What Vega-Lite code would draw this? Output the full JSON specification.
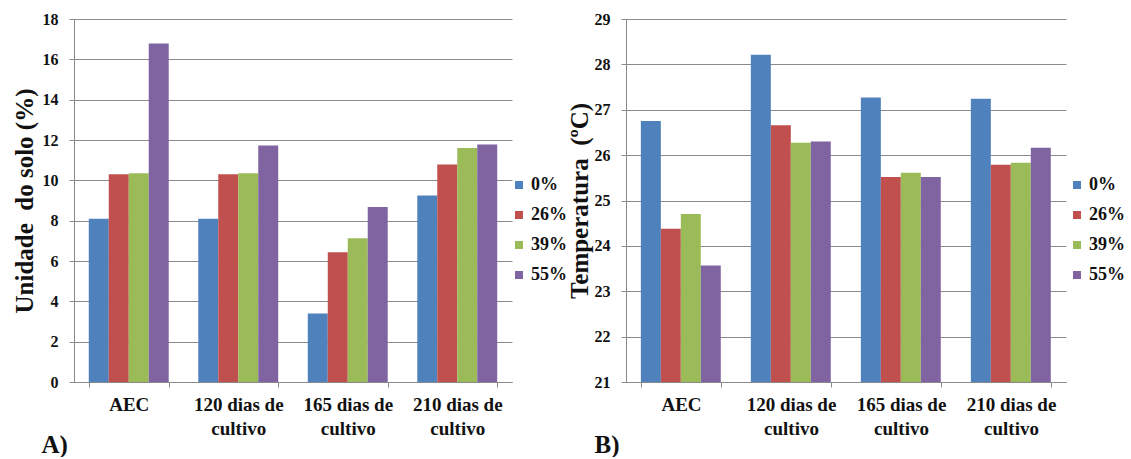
{
  "$schema": "https://vega.github.io/schema/vega-lite/v6.json",
  "background": "white",
  "padding": {"left": 12, "top": 11, "right": 0, "bottom": 0},
  "spacing": 0,
  "datasets": {
    "umidade": [
      {"periodo": "AEC", "trat": "0%", "valor": 8.1},
      {"periodo": "AEC", "trat": "26%", "valor": 10.3},
      {"periodo": "AEC", "trat": "39%", "valor": 10.35},
      {"periodo": "AEC", "trat": "55%", "valor": 16.78},
      {"periodo": "120 dias de cultivo", "trat": "0%", "valor": 8.1},
      {"periodo": "120 dias de cultivo", "trat": "26%", "valor": 10.3},
      {"periodo": "120 dias de cultivo", "trat": "39%", "valor": 10.35},
      {"periodo": "120 dias de cultivo", "trat": "55%", "valor": 11.73},
      {"periodo": "165 dias de cultivo", "trat": "0%", "valor": 3.4},
      {"periodo": "165 dias de cultivo", "trat": "26%", "valor": 6.43},
      {"periodo": "165 dias de cultivo", "trat": "39%", "valor": 7.13},
      {"periodo": "165 dias de cultivo", "trat": "55%", "valor": 8.68},
      {"periodo": "210 dias de cultivo", "trat": "0%", "valor": 9.25},
      {"periodo": "210 dias de cultivo", "trat": "26%", "valor": 10.78},
      {"periodo": "210 dias de cultivo", "trat": "39%", "valor": 11.6},
      {"periodo": "210 dias de cultivo", "trat": "55%", "valor": 11.78}
    ],
    "temperatura": [
      {"periodo": "AEC", "trat": "0%", "valor": 26.75},
      {"periodo": "AEC", "trat": "26%", "valor": 24.38},
      {"periodo": "AEC", "trat": "39%", "valor": 24.7},
      {"periodo": "AEC", "trat": "55%", "valor": 23.57},
      {"periodo": "120 dias de cultivo", "trat": "0%", "valor": 28.21},
      {"periodo": "120 dias de cultivo", "trat": "26%", "valor": 26.66},
      {"periodo": "120 dias de cultivo", "trat": "39%", "valor": 26.27},
      {"periodo": "120 dias de cultivo", "trat": "55%", "valor": 26.3},
      {"periodo": "165 dias de cultivo", "trat": "0%", "valor": 27.27},
      {"periodo": "165 dias de cultivo", "trat": "26%", "valor": 25.52},
      {"periodo": "165 dias de cultivo", "trat": "39%", "valor": 25.61},
      {"periodo": "165 dias de cultivo", "trat": "55%", "valor": 25.52},
      {"periodo": "210 dias de cultivo", "trat": "0%", "valor": 27.24},
      {"periodo": "210 dias de cultivo", "trat": "26%", "valor": 25.79},
      {"periodo": "210 dias de cultivo", "trat": "39%", "valor": 25.83},
      {"periodo": "210 dias de cultivo", "trat": "55%", "valor": 26.16}
    ]
  },
  "config": {
    "view": {"stroke": null},
    "axis": {
      "labelFont": "Liberation Serif",
      "titleFont": "Liberation Serif",
      "labelFontWeight": "bold",
      "titleFontWeight": "bold",
      "labelColor": "#111111",
      "titleColor": "#111111",
      "domainColor": "#8a8a8a",
      "tickColor": "#8a8a8a",
      "gridColor": "#8a8a8a"
    },
    "legend": {
      "labelFont": "Liberation Serif",
      "labelFontWeight": "bold",
      "labelFontSize": 18,
      "labelColor": "#111111",
      "symbolType": "square",
      "symbolSize": 64,
      "rowPadding": 12,
      "labelOffset": 3
    }
  },
  "resolve": {"legend": {"color": "independent"}},
  "hconcat": [
    {
      "width": 438,
      "height": 363,
      "data": {"name": "umidade"},
      "mark": {"type": "bar"},
      "encoding": {
        "x": {
          "field": "periodo",
          "type": "nominal",
          "sort": ["AEC", "120 dias de cultivo", "165 dias de cultivo", "210 dias de cultivo"],
          "scale": {"paddingInner": 0.27, "paddingOuter": 0.135},
          "axis": {
            "title": "A)",
            "titleFont": "Liberation Serif",
            "titleFontSize": 25,
            "titleAnchor": "start",
            "titleAlign": "left",
            "titleBaseline": "middle",
            "titleX": -33,
            "titleY": 62,
            "labelAngle": 0,
            "labelFont": "Liberation Serif",
            "labelFontSize": 19,
            "labelLineHeight": 24,
            "labelPadding": 8,
            "tickSize": 5,
            "tickBand": "extent",
            "labelExpr": "datum.value == null ? '' : datum.value == 'AEC' ? 'AEC' : [substring(datum.value, 0, 11), 'cultivo']"
          }
        },
        "xOffset": {"field": "trat", "type": "nominal", "sort": ["0%", "26%", "39%", "55%"]},
        "y": {
          "field": "valor",
          "type": "quantitative",
          "scale": {"domain": [0, 18], "nice": false},
          "axis": {
            "title": "Unidade\u00a0 do solo (%)",
            "titleFont": "Liberation Serif",
            "titleFontSize": 25,
            "titlePadding": 5,
            "values": [0, 2, 4, 6, 8, 10, 12, 14, 16, 18],
            "labelFont": "Liberation Serif",
            "labelFontWeight": "bold",
            "labelFontSize": 16,
            "labelPadding": 11,
            "tickSize": 5,
            "grid": true
          }
        },
        "color": {
          "field": "trat",
          "type": "nominal",
          "sort": ["0%", "26%", "39%", "55%"],
          "scale": {"domain": ["0%", "26%", "39%", "55%"], "range": ["#4F81BD", "#C0504D", "#9BBB59", "#8064A2"]},
          "legend": {"title": null, "orient": "none", "legendX": 436, "legendY": 157}
        }
      }
    },
    {
      "width": 440,
      "height": 363,
      "data": {"name": "temperatura"},
      "mark": {"type": "bar"},
      "encoding": {
        "x": {
          "field": "periodo",
          "type": "nominal",
          "sort": ["AEC", "120 dias de cultivo", "165 dias de cultivo", "210 dias de cultivo"],
          "scale": {"paddingInner": 0.27, "paddingOuter": 0.135},
          "axis": {
            "title": "B)",
            "titleFont": "Liberation Serif",
            "titleFontSize": 25,
            "titleAnchor": "start",
            "titleAlign": "left",
            "titleBaseline": "middle",
            "titleX": -32,
            "titleY": 62,
            "labelAngle": 0,
            "labelFont": "Liberation Serif",
            "labelFontSize": 19,
            "labelLineHeight": 24,
            "labelPadding": 8,
            "tickSize": 5,
            "tickBand": "extent",
            "labelExpr": "datum.value == null ? '' : datum.value == 'AEC' ? 'AEC' : [substring(datum.value, 0, 11), 'cultivo']"
          }
        },
        "xOffset": {"field": "trat", "type": "nominal", "sort": ["0%", "26%", "39%", "55%"]},
        "y": {
          "field": "valor",
          "type": "quantitative",
          "scale": {"domain": [21, 29], "nice": false, "zero": false},
          "axis": {
            "title": "Temperatura\u00a0 (ºC)",
            "titleFont": "Liberation Serif",
            "titleFontSize": 25,
            "titlePadding": 2,
            "values": [21, 22, 23, 24, 25, 26, 27, 28, 29],
            "labelFont": "Liberation Serif",
            "labelFontWeight": "bold",
            "labelFontSize": 16,
            "labelPadding": 11,
            "tickSize": 5,
            "grid": true
          }
        },
        "y2": {"datum": 21},
        "color": {
          "field": "trat",
          "type": "nominal",
          "sort": ["0%", "26%", "39%", "55%"],
          "scale": {"domain": ["0%", "26%", "39%", "55%"], "range": ["#4F81BD", "#C0504D", "#9BBB59", "#8064A2"]},
          "legend": {"title": null, "orient": "none", "legendX": 442, "legendY": 157}
        }
      }
    }
  ]
}
